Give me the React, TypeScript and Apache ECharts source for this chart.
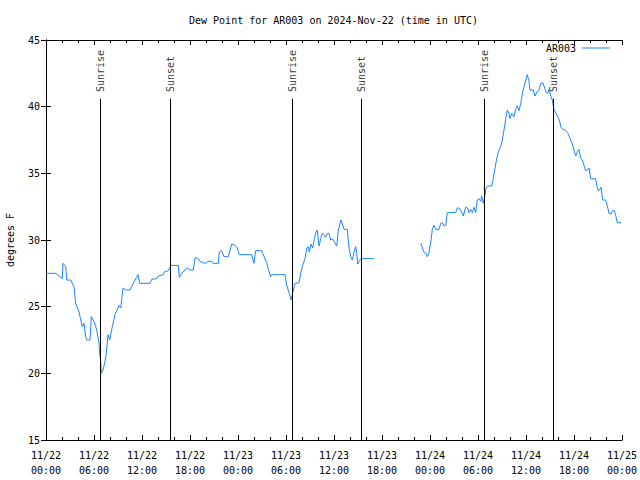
import React, { useEffect, useRef } from "react";
import * as echarts from "echarts";

// hours since 2024-11-22 00:00 UTC
const hoursA = [0, 1.21, 2.04, 2.13, 2.46, 2.59, 3.09, 3.5, 3.71, 4.13, 4.34, 4.54, 4.75, 4.96, 5.09, 5.5, 5.66, 6.0, 6.34, 6.63, 6.71, 6.84, 6.91, 7.13, 7.38, 7.54, 7.75, 7.96, 8.29, 8.63, 9.13, 9.34, 9.63, 9.96, 10.5, 10.66, 11.21, 11.5, 11.71, 12.16, 13.0, 13.21, 13.84, 14.04, 14.66, 14.79, 15.29, 15.59, 16.54, 16.66, 16.96, 17.66, 18.0, 18.41, 18.63, 19.04, 19.25, 19.59, 20.0, 20.21, 20.71, 20.91, 21.54, 21.66, 21.96, 22.25, 22.79, 23.21, 23.63, 23.91, 24.16, 25.71, 26.0, 26.21, 26.96, 27.16, 27.59, 27.79, 28.09, 28.21, 29.88, 30.09, 30.41, 30.63, 30.79, 31.13, 31.63, 31.84, 32.09, 32.38, 32.59, 32.79, 32.91, 33.13, 33.34, 33.54, 33.75, 33.91, 34.13, 34.34, 34.54, 34.75, 34.96, 35.16, 35.38, 35.59, 35.79, 36.0, 36.34, 36.54, 36.88, 37.04, 37.25, 37.66, 37.88, 38.09, 38.29, 38.5, 38.71, 38.84, 38.96, 39.16, 39.34, 41.0];
const dewA = [27.5, 27.5, 27.1, 28.25, 28.0, 27.0, 27.0, 26.5, 25.25, 24.6, 24.0, 23.5, 23.75, 22.75, 22.5, 22.5, 24.25, 23.9, 23.25, 22.25, 21.4, 20.9, 20.0, 20.25, 20.9, 21.5, 22.9, 22.5, 23.5, 24.4, 25.1, 24.9, 26.4, 26.25, 26.25, 26.45, 27.1, 27.4, 26.75, 26.75, 26.75, 27.05, 27.1, 27.3, 27.4, 27.6, 27.7, 28.1, 28.1, 27.2, 27.5, 27.9, 27.75, 27.75, 28.7, 28.6, 28.4, 28.3, 28.25, 28.4, 28.4, 28.25, 28.25, 29.1, 29.2, 28.75, 28.75, 29.7, 29.6, 29.4, 28.9, 28.9, 28.25, 29.2, 29.2, 28.9, 28.3, 27.8, 27.25, 27.4, 27.4, 26.6, 26.0, 25.5, 25.9, 26.75, 26.8, 27.5, 28.1, 28.6, 29.4, 29.5, 29.1, 29.7, 29.4, 30.1, 30.6, 30.75, 29.55, 30.1, 30.5, 30.4, 30.2, 30.5, 30.5, 30.0, 30.1, 29.9, 29.55, 30.75, 31.5, 31.2, 30.8, 30.8, 29.4, 28.75, 28.5, 29.1, 29.5, 29.0, 28.2, 28.4, 28.6, 28.6];
const hoursB = [46.88, 47.04, 47.29, 47.5, 47.66, 47.88, 48.13, 48.29, 48.5, 48.71, 49.13, 49.34, 49.54, 49.75, 49.96, 50.16, 51.21, 51.41, 51.66, 51.96, 52.16, 52.46, 52.71, 52.88, 53.09, 53.29, 53.5, 53.71, 53.91, 54.13, 54.34, 54.46, 54.66, 54.88, 55.0, 55.21, 55.71, 55.91, 56.13, 56.34, 56.54, 56.88, 57.04, 57.25, 57.46, 57.66, 57.88, 58.0, 58.21, 58.5, 58.71, 58.91, 59.13, 59.34, 59.54, 59.79, 60.0, 60.16, 60.38, 60.5, 60.91, 61.13, 61.34, 61.63, 61.84, 62.09, 62.29, 62.5, 62.71, 62.88, 63.09, 63.29, 63.5, 63.71, 63.96, 64.16, 64.38, 64.59, 64.79, 65.0, 65.21, 65.41, 65.59, 65.79, 66.0, 66.21, 66.41, 66.63, 66.84, 67.04, 67.25, 67.46, 67.66, 67.88, 68.09, 68.71, 68.84, 69.04, 69.25, 69.38, 69.59, 69.96, 70.16, 70.38, 70.63, 70.84, 71.04, 71.25, 71.41, 71.88];
const dewB = [29.75, 29.4, 29.05, 29.0, 28.75, 29.05, 30.0, 30.8, 31.1, 30.8, 30.8, 31.25, 31.3, 31.05, 31.1, 32.05, 32.05, 32.4, 32.4, 32.1, 31.8, 32.45, 32.4, 32.05, 32.3, 32.05, 32.45, 32.05, 33.0, 33.1, 32.9, 33.3, 32.75, 33.4, 33.9, 34.05, 34.05, 34.6, 35.4, 36.1, 36.6, 37.1, 37.5, 38.25, 39.05, 39.75, 39.5, 39.1, 39.5, 39.25, 39.8, 40.05, 39.7, 40.25, 40.95, 41.6, 42.0, 42.4, 41.9, 41.25, 41.25, 40.8, 41.1, 41.25, 41.75, 41.8, 41.5, 41.1, 41.0, 41.3, 40.8, 40.5, 39.75, 39.55, 39.25, 39.0, 38.45, 38.3, 38.3, 38.2, 38.05, 37.75, 37.5, 37.2, 36.75, 36.3, 36.6, 36.8, 36.1, 36.0, 35.6, 35.2, 35.25, 35.4, 34.6, 34.6, 34.1, 33.7, 33.8, 33.95, 33.0, 33.0, 32.6, 32.0, 31.95, 32.2, 32.2, 31.75, 31.3, 31.3];
const gapHour = 44;

const eventNames = ["Sunrise", "Sunset", "Sunrise", "Sunset", "Sunrise", "Sunset"];
const eventHours = [6.8, 15.55, 30.8, 39.45, 54.8, 63.42];
const eventLineTop = 40.6;
const eventLabelBase = 41.1;

const tickDates = ["11/22", "11/22", "11/22", "11/22", "11/23", "11/23", "11/23", "11/23", "11/24", "11/24", "11/24", "11/24", "11/25"];
const tickTimes = ["00:00", "06:00", "12:00", "18:00"];

const FONT = "DejaVu Sans Mono";
const LINE_COLOR = "#1a84ff";

export default function App() {
  const ref = useRef<HTMLDivElement>(null);
  useEffect(() => {
    if (!ref.current) return;
    const chart = echarts.init(ref.current, null, { renderer: "svg" });
    const lineData: any[] = [];
    hoursA.forEach((h, i) => lineData.push([h, dewA[i]]));
    lineData.push([gapHour, "-"]);
    hoursB.forEach((h, i) => lineData.push([h, dewB[i]]));

    const axisCommon = {
      type: "value" as const,
      axisLine: { show: true, lineStyle: { color: "#000", width: 1 } },
      splitLine: { show: false },
    };

    chart.setOption({
      animation: false,
      backgroundColor: "#fff",
      textStyle: { fontFamily: FONT, fontSize: 10, color: "#000" },
      title: {
        text: "Dew Point for AR003 on 2024-Nov-22 (time in UTC)",
        left: 184,
        top: 10,
        textStyle: { fontFamily: FONT, fontSize: 10, fontWeight: "normal", color: "#000" },
      },
      legend: {
        right: 30,
        top: 43,
        padding: 0,
        data: [{ name: "AR003", icon: "rect" }],
        align: "right",
        itemWidth: 28,
        itemHeight: 1,
        itemStyle: { color: LINE_COLOR },
        textStyle: { fontFamily: FONT, fontSize: 10, color: "#000", padding: [0, 1, 0, 0] },
      },
      grid: { left: 46, right: 18, top: 40, bottom: 40, containLabel: false, outerBoundsMode: "none" },
      xAxis: [
        {
          ...axisCommon,
          position: "bottom",
          min: 0,
          max: 72,
          interval: 6,
          axisTick: { show: true, inside: true, length: 5, lineStyle: { color: "#000" } },
          minorTick: { show: true, splitNumber: 3, length: 3, lineStyle: { color: "#000" } },
          axisLabel: {
            margin: 8,
            lineHeight: 15,
            fontFamily: FONT,
            fontSize: 10,
            color: "#000",
            formatter: (v: number) => {
              const idx = Math.round(v / 6);
              return tickDates[idx] + "\n" + tickTimes[idx % 4];
            },
          },
        },
        {
          ...axisCommon,
          position: "top",
          min: 0,
          max: 72,
          interval: 6,
          axisTick: { show: true, inside: true, length: 5, lineStyle: { color: "#000" } },
          minorTick: { show: true, splitNumber: 3, length: 3, lineStyle: { color: "#000" } },
          axisLabel: { show: false },
        },
      ],
      yAxis: [
        {
          ...axisCommon,
          position: "left",
          min: 15,
          max: 45,
          interval: 5,
          name: "degrees F",
          nameLocation: "middle",
          nameGap: 31,
          nameTextStyle: { fontFamily: FONT, fontSize: 10, color: "#000" },
          axisTick: { show: true, inside: true, length: 5, lineStyle: { color: "#000" } },
          axisLabel: { margin: 6, fontFamily: FONT, fontSize: 10, color: "#000" },
        },
        {
          ...axisCommon,
          position: "right",
          min: 15,
          max: 45,
          interval: 5,
          axisTick: { show: true, inside: true, length: 5, lineStyle: { color: "#000" } },
          axisLabel: { show: false },
        },
      ],
      series: [
        {
          name: "AR003",
          type: "line",
          data: lineData,
          symbol: "none",
          connectNulls: false,
          lineStyle: { color: LINE_COLOR, width: 1 },
          itemStyle: { color: LINE_COLOR },
          z: 3,
          markLine: {
            silent: true,
            symbol: "none",
            label: { show: false },
            lineStyle: { color: "#000", width: 1, type: "solid" },
            emphasis: { disabled: true },
            data: eventHours.map((h) => [
              { coord: [h, 15] },
              { coord: [h, eventLineTop] },
            ]),
          },
        },
        {
          name: "events",
          type: "scatter",
          symbolSize: 0,
          silent: true,
          data: eventHours.map((h, i) => [h, eventLabelBase, eventNames[i]]),
          label: {
            show: true,
            position: "inside",
            rotate: 90,
            align: "left",
            verticalAlign: "middle",
            fontFamily: FONT,
            fontSize: 10,
            color: "#000",
            formatter: (p: any) => p.data[2],
          },
        },
      ],
    });
    return () => chart.dispose();
  }, []);
  return <div ref={ref} style={{ width: 640, height: 480, position: "absolute", left: 0, top: 0 }} />;
}
